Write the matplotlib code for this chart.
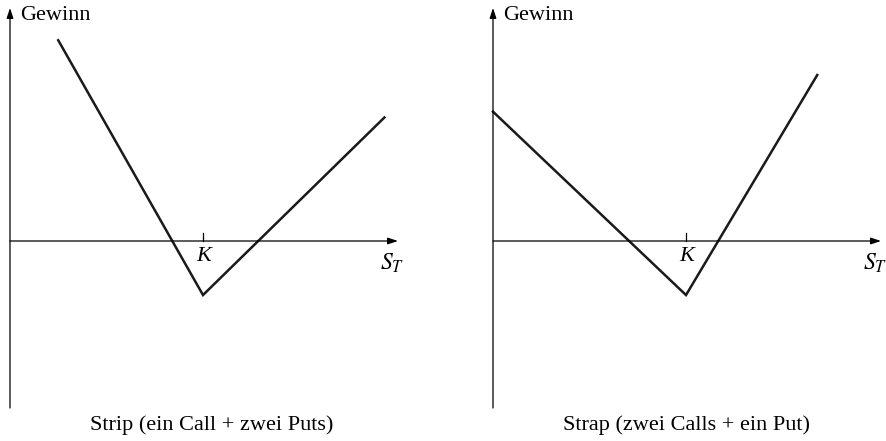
import matplotlib.pyplot as plt

# Data (arbitrary units, strike K = 100)
K = 100
strip_S = [25, 100, 194]
strip_profit = [104, -28, 64]
strap_S = [0, 100, 168]
strap_profit = [67, -28, 86]
captions = ["Strip (ein Call + zwei Puts)", "Strap (zwei Calls + ein Put)"]
y_label = "Gewinn"
k_label = "K"

plt.rcParams['font.family'] = ['Liberation Serif', 'DejaVu Serif']
plt.rcParams['mathtext.fontset'] = 'stix'

fig = plt.figure(figsize=(8.86, 4.41), dpi=100)
scale = 1.93  # px per unit

panels = [
    dict(pos=[0.0, 0.0, 0.5, 1.0], x0px=10, x0=0, S=strip_S, P=strip_profit, cap=captions[0], capx=104.4),
    dict(pos=[0.5, 0.0, 0.5, 1.0], x0px=493, x0=443, S=strap_S, P=strap_profit, cap=captions[1], capx=100.5),
]

for p in panels:
    ax = fig.add_axes(p['pos'])
    left = (p['x0'] - p['x0px']) / scale
    right = (p['x0'] + 443 - p['x0px']) / scale
    ax.set_xlim(left, right)
    ax.set_ylim((241 - 441) / scale, 241 / scale)
    ax.axis('off')
    ybot = (241 - 408) / scale
    ytop = (241 - 8) / scale
    xend = 201
    arrow = dict(arrowstyle='-|>,head_length=0.6,head_width=0.2', lw=0.9, color='black',
                 shrinkA=0, shrinkB=0)
    ax.annotate('', xy=(0, ytop), xytext=(0, ybot), arrowprops=arrow)
    ax.annotate('', xy=(xend, 0), xytext=(0, 0), arrowprops=arrow)
    ax.plot([K, K], [0, 4], color='black', lw=0.9)
    ax.plot(p['S'], p['P'], color='#1a1a1a', lw=1.8, solid_joinstyle='miter')
    ax.text(K + 0.5, -7.8, k_label, ha='center', va='center', fontsize=16, style='italic')
    ax.text(198, -11.5, r'$S_T$', ha='center', va='center', fontsize=17)
    ax.text(5, (241 - 16) / scale, y_label, ha='left', va='center', fontsize=16)
    ax.text(p['capx'], (241 - 425) / scale, p['cap'], ha='center', va='center', fontsize=16)

fig.savefig('out.png', dpi=100)
